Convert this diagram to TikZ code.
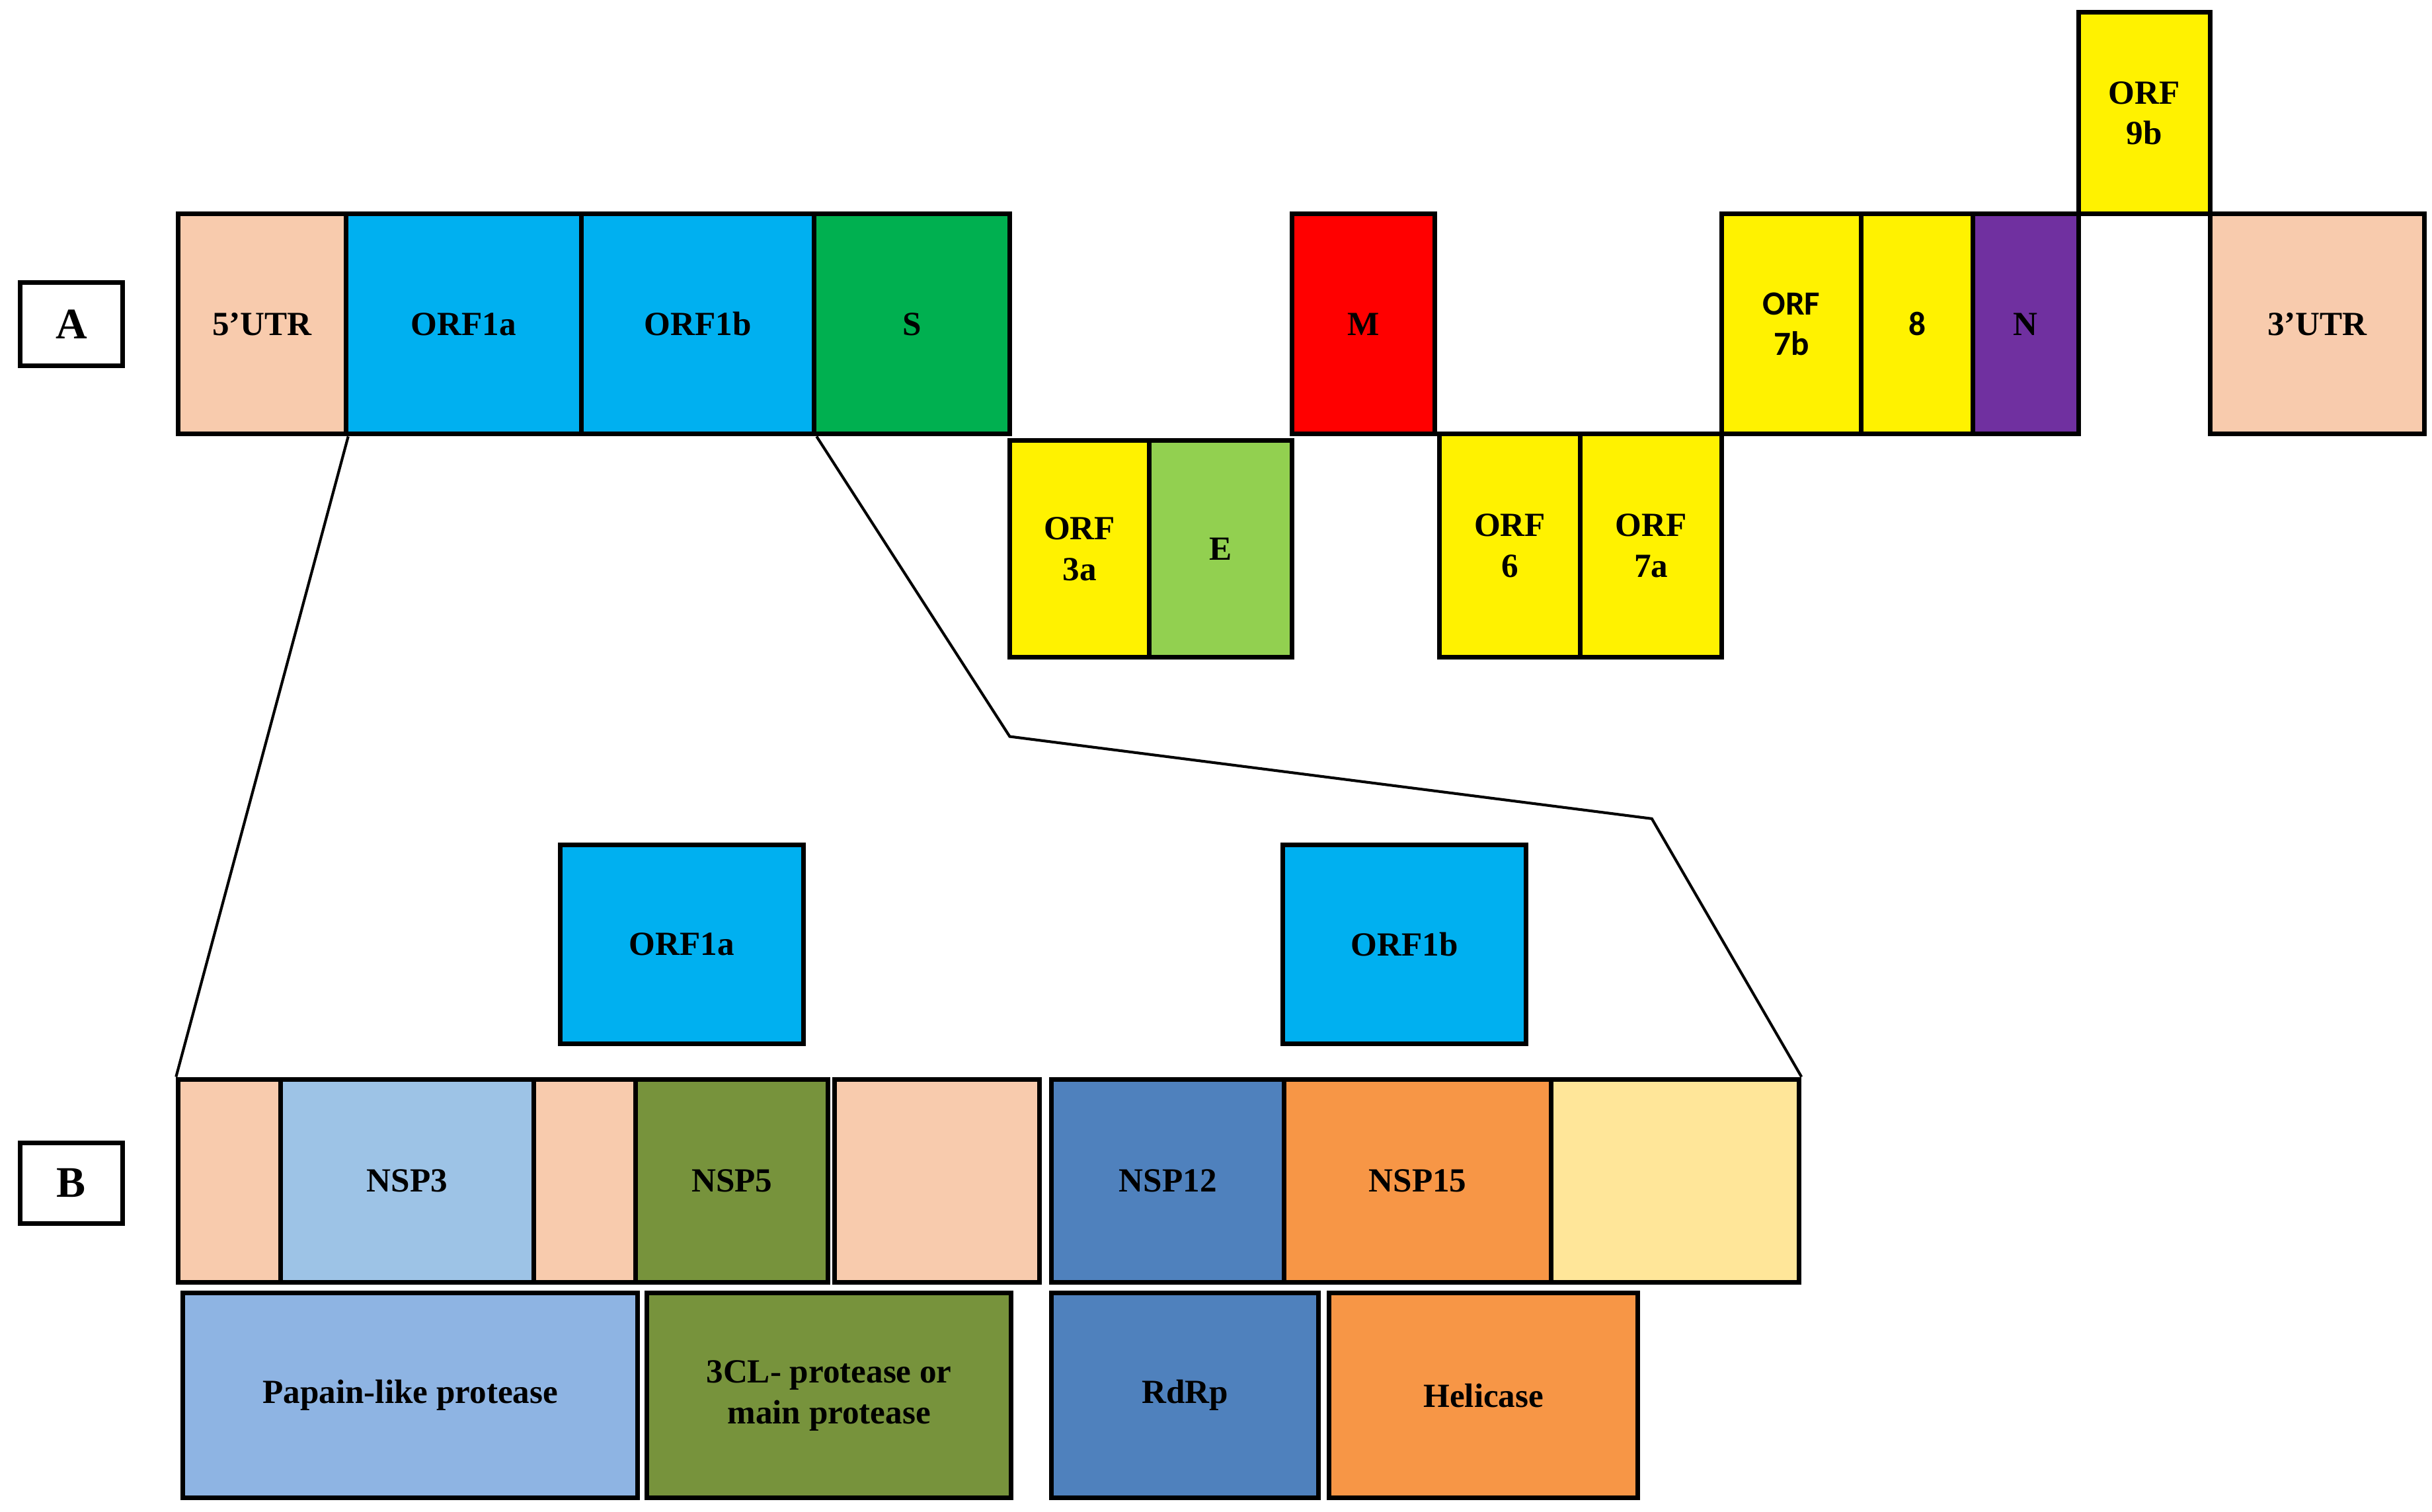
\documentclass[tikz,border=0pt]{standalone}
\usepackage{fontspec}
\setmainfont{Liberation Serif}
\newfontfamily\calfont{Carlito}
\definecolor{peach}{HTML}{F8CBAD}
\definecolor{cyanb}{HTML}{00B0F0}
\definecolor{sgreen}{HTML}{00B050}
\definecolor{egreen}{HTML}{92D050}
\definecolor{purp}{HTML}{7030A0}
\definecolor{nsp3}{HTML}{9DC3E6}
\definecolor{olive}{HTML}{77933C}
\definecolor{steel}{HTML}{4F81BD}
\definecolor{orng}{HTML}{F79646}
\definecolor{lyel}{HTML}{FFE699}
\definecolor{pap}{HTML}{8EB4E3}
\begin{document}
\begin{tikzpicture}[x=0.01cm,y=-0.01cm,
  bx/.style={draw=black,line width=0.85pt,font=\fontsize{6.2}{7.5}\selectfont\bfseries,align=center,inner sep=0pt}]
\useasboundingbox (0,0) rectangle (1568,975);
\def\B#1#2#3#4#5#6#7{\node[bx,fill=#6,minimum width={(#3-#2)*0.01cm},minimum height={(#5-#4)*0.01cm}] (#1) at ({(#2+#3)/2},{(#4+#5)/2}) {#7};}
\B{la}{13}{79}{182}{236}{white}{\fontsize{8}{9}\selectfont A}
\B{utr5}{115}{223}{138}{280}{peach}{5'UTR}
\B{o1a}{223}{375}{138}{280}{cyanb}{ORF1a}
\B{o1b}{375}{525}{138}{280}{cyanb}{ORF1b}
\B{s}{525}{651}{138}{280}{sgreen}{S}
\B{o3a}{651}{741}{284}{424}{yellow}{ORF\\3a}
\B{e}{741}{833}{284}{424}{egreen}{E}
\B{m}{833}{925}{138}{280}{red}{M}
\B{o6}{928}{1019}{280}{424}{yellow}{ORF\\6}
\B{o7a}{1019}{1110}{280}{424}{yellow}{ORF\\7a}
\B{o7b}{1110}{1200}{138}{280}{yellow}{\calfont ORF\\\calfont 7b}
\B{e8}{1200}{1272}{138}{280}{yellow}{\calfont 8}
\B{n}{1272}{1340}{138}{280}{purp}{N}
\B{o9b}{1340}{1425}{8}{138}{yellow}{ORF\\9b}
\B{utr3}{1425}{1563}{138}{280}{peach}{3'UTR}
\B{lb}{13}{79}{737}{789}{white}{\fontsize{8}{9}\selectfont B}
\B{z1a}{361}{518}{545}{673}{cyanb}{ORF1a}
\B{z1b}{827}{984}{545}{673}{cyanb}{ORF1b}
\B{p1}{115}{181}{696}{827}{peach}{}
\B{nsp3}{181}{344}{696}{827}{nsp3}{NSP3}
\B{p2}{344}{410}{696}{827}{peach}{}
\B{nsp5}{410}{534}{696}{827}{olive}{NSP5}
\B{p3}{538}{670}{696}{827}{peach}{}
\B{nsp12}{678}{828}{696}{827}{steel}{NSP12}
\B{nsp15}{828}{1000}{696}{827}{orng}{NSP15}
\B{ly}{1000}{1160}{696}{827}{lyel}{}
\B{pap}{118}{411}{834}{966}{pap}{Papain-like protease}
\B{cl}{417}{652}{834}{966}{olive}{3CL- protease or\\main protease}
\B{rd}{678}{850}{834}{966}{steel}{RdRp}
\B{hel}{857}{1056}{834}{966}{orng}{Helicase}
\coordinate (k1) at (651,475);
\coordinate (k2) at (1065,528);
\draw[line width=0.5pt] (utr5.south east) -- (p1.north west);
\draw[line width=0.5pt] (o1b.south east) -- (k1) -- (k2) -- (ly.north east);
\end{tikzpicture}
\end{document}
